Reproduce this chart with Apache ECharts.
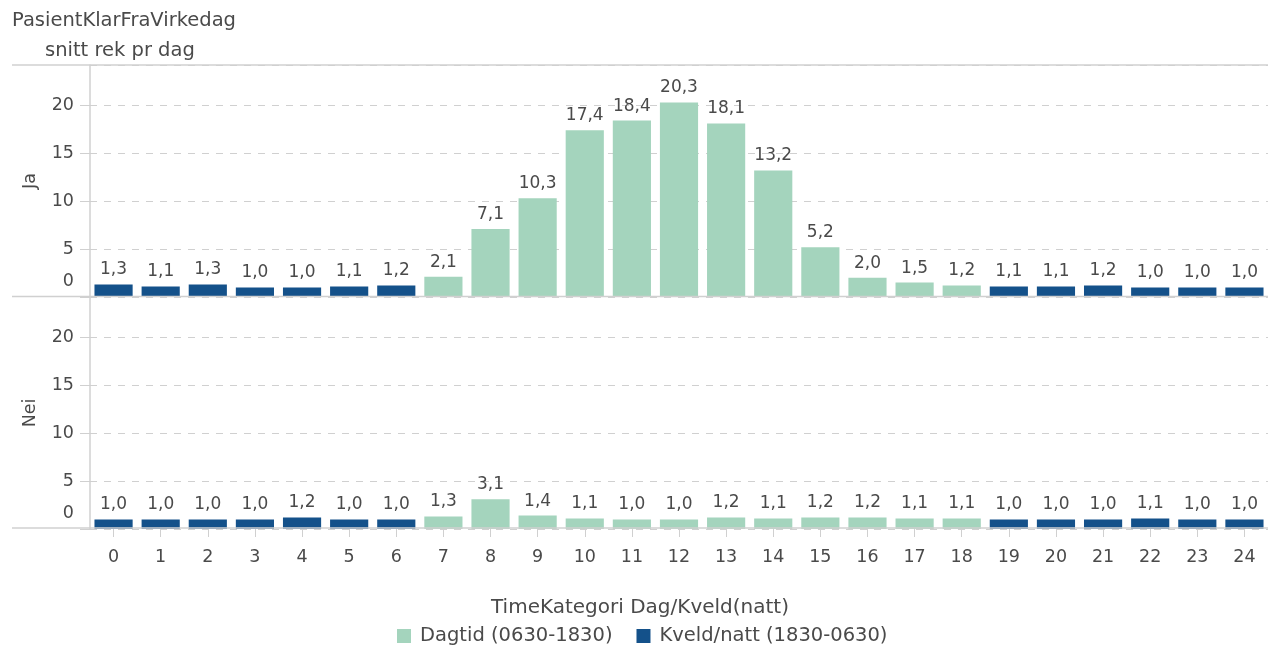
<!DOCTYPE html>
<html>
<head>
<meta charset="utf-8">
<script src="https://cdn.jsdelivr.net/npm/echarts@6/dist/echarts.min.js"></script>
<style>
html,body{margin:0;padding:0;background:#fff;}
#chart{width:1271px;height:657px;}
</style>
</head>
<body>
<div id="chart"></div>
<script>
var hours = ['0','1','2','3','4','5','6','7','8','9','10','11','12','13','14','15','16','17','18','19','20','21','22','23','24'];
// D = Dagtid (0630-1830), K = Kveld/natt (1830-0630)
var hourGroup = ['K','K','K','K','K','K','K','D','D','D','D','D','D','D','D','D','D','D','D','K','K','K','K','K','K'];
var jaValues = [1.3,1.1,1.3,1.0,1.0,1.1,1.2,2.1,7.1,10.3,17.4,18.4,20.3,18.1,13.2,5.2,2.0,1.5,1.2,1.1,1.1,1.2,1.0,1.0,1.0];
var neiValues = [1.0,1.0,1.0,1.0,1.2,1.0,1.0,1.3,3.1,1.4,1.1,1.0,1.0,1.2,1.1,1.2,1.2,1.1,1.1,1.0,1.0,1.0,1.1,1.0,1.0];
var panelNames = ['Ja','Nei'];
var seriesNames = ['Dagtid (0630-1830)','Kveld/natt (1830-0630)'];
var yTicks = [0,5,10,15,20];

var FONT = '"DejaVu Sans", sans-serif';
var GREEN = '#a4d4bd';
var BLUE = '#14518a';
var LINE = '#d0d0d0';
var TXT = '#4a4a4a';

function pick(vals, g){ return vals.map(function(v,i){ return hourGroup[i]===g ? v : '-'; }); }
function fmtNum(v){ return v.toFixed(1).replace('.', ','); }

var chart = echarts.init(document.getElementById('chart'));
var grids = [
  {left:90, right:3, top:65, height:232},
  {left:90, right:3, top:297, height:232}
];
function yAxis(idx){
  return {
    type:'value', gridIndex:idx, min:0, max:24.2, interval:5,
    name: panelNames[idx], nameLocation:'middle', nameGap:51, nameRotate:90,
    nameTextStyle:{fontFamily:FONT, fontSize:17.5, color:TXT},
    axisLine:{show:true, lineStyle:{color:LINE, width:1.5}},
    axisTick:{show:true, length:10, lineStyle:{color:LINE}},
    splitLine:{show:true, lineStyle:{color:LINE, type:[7,7], width:1}},
    axisLabel:{
      fontFamily:FONT, fontSize:17.5, color:TXT, margin:16,
      showMaxLabel:false,
      formatter:function(v){ if(yTicks.indexOf(v)<0) return ''; return v===0 ? '{z|0}' : String(v); },
      rich:{z:{fontFamily:FONT, fontSize:17.5, color:TXT, padding:[0,0,31,0]}}
    }
  };
}
function xAxis(idx){
  var bottom = idx===1;
  return {
    type:'category', gridIndex:idx, data:hours,
    axisLine:{show:false},
    axisTick:{show:bottom, alignWithLabel:true, length:8, lineStyle:{color:LINE}},
    axisLabel:{show:bottom, fontFamily:FONT, fontSize:17.5, color:TXT, margin:19},
    name: bottom ? 'TimeKategori Dag/Kveld(natt)' : '',
    nameLocation:'middle', nameGap:69,
    nameTextStyle:{fontFamily:FONT, fontSize:20, color:TXT, padding:[0,78,0,0]}
  };
}
function barSeries(name, vals, g, idx, color){
  return {
    name:name, type:'bar', xAxisIndex:idx, yAxisIndex:idx,
    data: pick(vals, g), barGap:'-100%', barCategoryGap:'19%',
    itemStyle:{color:color},
    label:{show:true, position:'top', distance:6, fontFamily:FONT, fontSize:17, color:TXT,
      formatter:function(p){ return fmtNum(p.value); }},
    emphasis:{disabled:true}, animation:false
  };
}
var option = {
  animation:false,
  textStyle:{fontFamily:FONT},
  title:[
    {text:'PasientKlarFraVirkedag', left:7, top:6, textStyle:{fontFamily:FONT, fontSize:19.5, fontWeight:'normal', color:TXT}},
    {text:'snitt rek pr dag', left:40, top:36, textStyle:{fontFamily:FONT, fontSize:19.5, fontWeight:'normal', color:TXT}}
  ],
  legend:{
    bottom:6, left:392, itemWidth:14, itemHeight:14, itemGap:24, icon:'rect',
    textStyle:{fontFamily:FONT, fontSize:19.5, color:TXT, padding:[0,0,0,4]},
    data:seriesNames
  },
  grid:grids,
  xAxis:[xAxis(0), xAxis(1)],
  yAxis:[yAxis(0), yAxis(1)],
  series:[
    barSeries(seriesNames[0], jaValues, 'D', 0, GREEN),
    barSeries(seriesNames[1], jaValues, 'K', 0, BLUE),
    barSeries(seriesNames[0], neiValues, 'D', 1, GREEN),
    barSeries(seriesNames[1], neiValues, 'K', 1, BLUE)
  ],
  graphic:[
    {type:'line', shape:{x1:12, y1:65, x2:1268, y2:65}, style:{stroke:LINE, lineWidth:1.5}, z:100},
    {type:'line', shape:{x1:12, y1:296.5, x2:1268, y2:296.5}, style:{stroke:LINE, lineWidth:1.5}, z:100},
    {type:'line', shape:{x1:12, y1:528, x2:1268, y2:528}, style:{stroke:LINE, lineWidth:1.5}, z:100}
  ]
};
chart.setOption(option);
</script>
</body>
</html>
